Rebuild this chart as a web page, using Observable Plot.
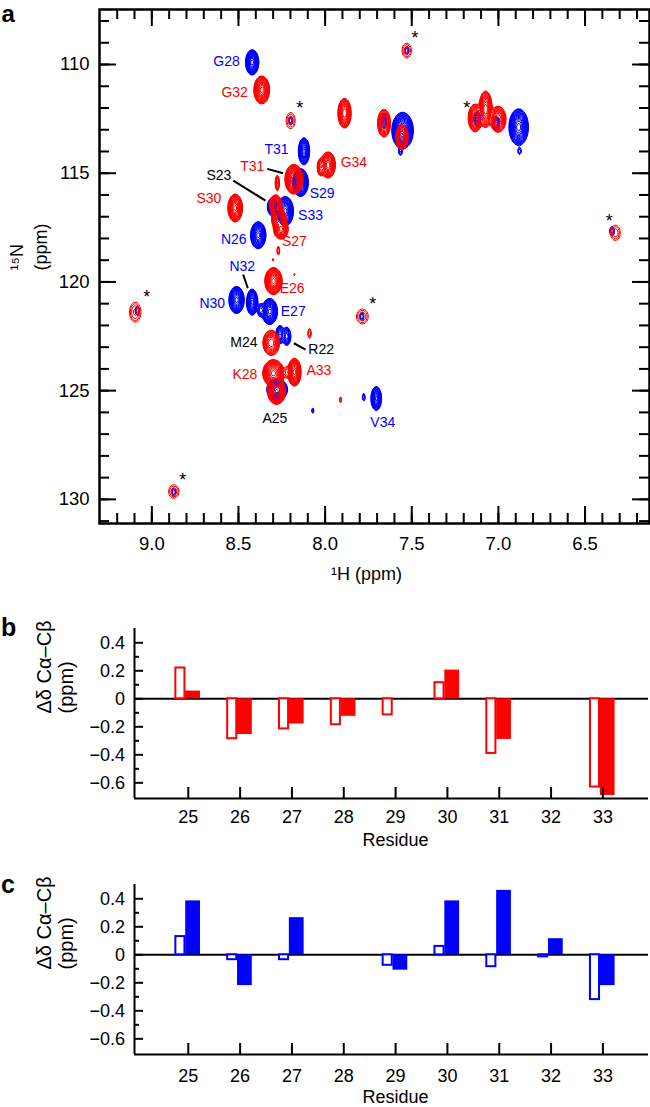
<!DOCTYPE html>
<html><head><meta charset="utf-8">
<script src="https://cdn.jsdelivr.net/npm/d3@7"></script>
<script src="https://cdn.jsdelivr.net/npm/@observablehq/plot@0.6"></script>
<style>
html,body{margin:0;padding:0;background:#fff;}
#wrap{position:relative;width:650px;height:1107px;overflow:hidden;background:#fff;}
#wrap svg{position:absolute;left:0;}
</style></head><body><div id="wrap"></div>
<script>
const FONT = "'Liberation Sans', Arial, Helvetica, sans-serif";
const RED = "#ff0000", BLUE = "#0000ff";

// ---------- panel a: axes ----------
const hDomain = [9.302, 6.128];
const nDomain = [131.11, 107.47];
const hMajor = [9.0, 8.5, 8.0, 7.5, 7.0, 6.5];
const hMinor = [9.2,9.1,9.0,8.9,8.8,8.7,8.6,8.5,8.4,8.3,8.2,8.1,8.0,7.9,7.8,7.7,7.6,7.5,7.4,7.3,7.2,7.1,7.0,6.9,6.8,6.7,6.6,6.5,6.4,6.3,6.2];
const nMajor = [110, 115, 120, 125, 130];
const nMinor = [108,109,110,111,112,113,114,115,116,117,118,119,120,121,122,123,124,125,126,127,128,129,130,131];

// peaks: [1H ppm, 15N ppm, half-width 1H, half-width 15N, relative intensity]
const bluePeaks = [
  [8.421, 109.90, 0.038, 0.58, 80],
  [8.122, 113.99, 0.032, 0.62, 60],
  [8.142, 115.43, 0.045, 0.64, 60],
  [8.230, 116.75, 0.047, 0.68, 60],
  [8.303, 116.55, 0.030, 0.42, 12],
  [8.386, 117.85, 0.044, 0.62, 60],
  [8.511, 120.83, 0.044, 0.62, 60],
  [8.421, 120.93, 0.032, 0.60, 60],
  [8.320, 121.36, 0.045, 0.60, 60],
  [8.373, 121.30, 0.018, 0.30, 6],
  [8.260, 122.42, 0.024, 0.42, 14],
  [8.222, 122.50, 0.024, 0.42, 14],
  [8.277, 124.95, 0.060, 0.50, 30],
  [7.705, 125.36, 0.030, 0.55, 60],
  [7.777, 125.30, 0.008, 0.18, 2.2],
  [8.071, 125.92, 0.006, 0.13, 2.0],
  [7.553, 113.04, 0.062, 0.84, 80],
  [7.565, 114.03, 0.010, 0.15, 2.2],
  [6.883, 112.88, 0.056, 0.84, 80],
  [6.878, 113.99, 0.010, 0.15, 2.2],
  [8.199, 112.58, 0.012, 0.20, 2.2],
  [7.529, 109.36, 0.012, 0.20, 2.2],
  [6.344, 117.67, 0.014, 0.22, 2.2],
  [9.084, 121.32, 0.012, 0.22, 2.2],
  [7.788, 121.59, 0.012, 0.20, 2.2],
  [8.873, 129.67, 0.012, 0.20, 2.2],
  [7.122, 112.50, 0.020, 0.35, 6],
  [7.014, 112.73, 0.020, 0.35, 6],
  [7.660, 112.60, 0.015, 0.35, 5]
];
const redPeaks = [
  [8.366, 111.17, 0.045, 0.64, 60],
  [8.199, 112.58, 0.026, 0.37, 2.1],
  [7.888, 112.24, 0.038, 0.68, 40],
  [7.660, 112.70, 0.037, 0.64, 18],
  [7.557, 113.34, 0.036, 0.58, 14],
  [7.529, 109.36, 0.027, 0.34, 2.1],
  [7.134, 112.46, 0.040, 0.64, 25],
  [7.074, 112.06, 0.038, 0.84, 40],
  [7.002, 112.52, 0.046, 0.60, 20],
  [6.325, 117.74, 0.028, 0.35, 2.1],
  [7.983, 114.62, 0.042, 0.60, 50],
  [8.025, 114.72, 0.020, 0.40, 10],
  [8.180, 115.28, 0.052, 0.68, 60],
  [8.276, 115.45, 0.012, 0.36, 4],
  [8.519, 116.60, 0.042, 0.64, 60],
  [8.286, 116.45, 0.036, 0.45, 25],
  [8.267, 117.10, 0.042, 0.50, 35],
  [8.255, 117.58, 0.042, 0.45, 35],
  [8.270, 118.56, 0.008, 0.20, 2.2],
  [8.300, 118.98, 0.004, 0.06, 1.6],
  [8.177, 119.66, 0.004, 0.06, 1.6],
  [8.298, 119.96, 0.050, 0.62, 60],
  [9.096, 121.39, 0.033, 0.46, 2.4],
  [7.785, 121.59, 0.034, 0.34, 2.2],
  [8.090, 122.37, 0.010, 0.22, 2.2],
  [8.311, 122.80, 0.048, 0.58, 18],
  [8.298, 124.20, 0.062, 0.62, 60],
  [8.280, 125.05, 0.052, 0.58, 45],
  [8.177, 124.15, 0.038, 0.64, 60],
  [8.222, 124.15, 0.012, 0.25, 2.5],
  [7.911, 125.42, 0.006, 0.14, 2.0],
  [8.873, 129.64, 0.030, 0.31, 2.1]
];
// assignments: [label, 1H, 15N]
const labelsBlue = [["G28",8.569,109.86],["T31",8.280,113.92],["S29",8.017,115.95],["S33",8.084,116.95],["N26",8.527,118.06],["N32",8.478,119.29],["N30",8.651,120.98],["E27",8.184,121.36],["V34",7.667,126.45]];
const labelsRed = [["G32",8.522,111.30],["G34",7.834,114.52],["T31",8.420,114.69],["S30",8.671,116.18],["S27",8.177,118.13],["E26",8.190,120.32],["K28",8.463,124.26],["A33",8.036,124.08]];
const labelsBlack = [["S23",8.613,115.10],["M24",8.469,122.77],["R22",8.023,123.12],["A25",8.290,126.30]];
const leaders = [[8.334,114.80,8.242,115.00],[8.530,115.34,8.344,116.26],[8.473,119.66,8.446,120.29],[8.180,122.82,8.113,123.11]];
const stars = [[8.146,111.81],[7.481,108.59],[7.182,111.84],[6.361,117.02],[9.029,120.52],[8.821,128.94],[7.725,120.86]];

// ---------- panels b, c ----------
const residues = [25,26,27,28,29,30,31,32,33];
const openB   = [0.22, -0.285, -0.215, -0.185, -0.115, 0.115, -0.39, null, -0.63];
const filledB = [0.055, -0.255, -0.18, -0.125, null, 0.205, -0.29, null, -0.69];
const openC   = [0.13, -0.035, -0.035, null, -0.075, 0.06, -0.085, -0.015, -0.32];
const filledC = [0.385, -0.22, 0.265, null, -0.11, 0.385, 0.46, 0.115, -0.22];
const resDomain = [23.962, 33.88];
const ddDomain = [-0.712, 0.502];
const ddMajor = [0.4, 0.2, 0, -0.2, -0.4, -0.6];
const ddMinor = [0.3, 0.1, -0.1, -0.3, -0.5];

// ---------- contour field ----------
const EXP = 2;
function sampler(peaks) {
  const P = peaks.map(([h, n, wh, wn, a]) => {
    const k = Math.pow(Math.log(a), 1 / EXP);
    return {h, n, sh: wh / k, sn: wn / k, a};
  });
  return (x, y) => {
    let s = 0;
    for (const p of P) {
      const u = (x - p.h) / p.sh;
      if (u > 6 || u < -6) continue;
      const v = (y - p.n) / p.sn;
      if (v > 6 || v < -6) continue;
      s += p.a * Math.exp(-(u * u + v * v));
    }
    return s;
  };
}
const levels = d3.range(0, 18).map(k => Math.pow(1.3, k));

const wrap = document.getElementById("wrap");

// ---------- panel a ----------
const mA = {top: 9, right: 1, bottom: 67, left: 99};
const WA = 650, HA = 590;
const FWA = WA - mA.left - mA.right, FHA = HA - mA.top - mA.bottom;
const bounds = {x1: Math.min(...hDomain), x2: Math.max(...hDomain), y1: Math.min(...nDomain), y2: Math.max(...nDomain)};
const plotA = Plot.plot({
  width: WA, height: HA,
  marginTop: mA.top, marginRight: mA.right, marginBottom: mA.bottom, marginLeft: mA.left,
  x: {domain: hDomain}, y: {domain: nDomain},
  style: {fontFamily: FONT, background: "transparent", color: "black"},
  marks: [
    Plot.contour(null, {...bounds, value: sampler(bluePeaks), thresholds: levels, stroke: BLUE, fill: "none", strokeWidth: 1, pixelSize: 1}),
    Plot.contour(null, {...bounds, value: sampler(redPeaks), thresholds: levels, stroke: RED, fill: "none", strokeWidth: 1, pixelSize: 1}),
    Plot.link(leaders, {x1: d => d[0], y1: d => d[1], x2: d => d[2], y2: d => d[3], stroke: "black", strokeWidth: 2}),
    Plot.text(labelsBlue, {x: d => d[1], y: d => d[2], text: d => d[0], fill: BLUE, fontSize: 14}),
    Plot.text(labelsRed, {x: d => d[1], y: d => d[2], text: d => d[0], fill: RED, fontSize: 14}),
    Plot.text(labelsBlack, {x: d => d[1], y: d => d[2], text: d => d[0], fill: "black", fontSize: 14}),
    Plot.text(stars, {x: d => d[0], y: d => d[1], text: () => "*", fill: "black", fontSize: 18, dy: 4}),
    Plot.frame({stroke: "black", strokeWidth: 2.5}),
    Plot.ruleX(hMinor, {insetTop: FHA - 10, strokeWidth: 2}),
    Plot.ruleX(hMinor, {insetBottom: FHA - 10, strokeWidth: 2}),
    Plot.ruleX(hMajor, {insetTop: FHA - 17, strokeWidth: 2}),
    Plot.ruleX(hMajor, {insetBottom: FHA - 17, strokeWidth: 2}),
    Plot.ruleY(nMinor, {insetRight: FWA - 10, strokeWidth: 2}),
    Plot.ruleY(nMinor, {insetLeft: FWA - 10, strokeWidth: 2}),
    Plot.ruleY(nMajor, {insetRight: FWA - 17, strokeWidth: 2}),
    Plot.ruleY(nMajor, {insetLeft: FWA - 17, strokeWidth: 2}),
    Plot.axisX({ticks: hMajor, tickSize: 0, tickPadding: 13, tickFormat: d3.format(".1f"), fontSize: 18.5, label: null}),
    Plot.axisY({ticks: nMajor, tickSize: 0, tickPadding: 10, tickFormat: d => String(d), fontSize: 18.5, label: null}),
    Plot.text(["¹H (ppm)"], {frameAnchor: "bottom", lineAnchor: "top", dy: 44, dx: -8, fontSize: 18}),
    Plot.text(["¹⁵N\n(ppm)"], {frameAnchor: "left", rotate: -90, dx: -72, dy: 4, lineHeight: 1.3, fontSize: 18}),
    Plot.text(["a"], {frameAnchor: "top-left", textAnchor: "start", lineAnchor: "top", dx: 1 - mA.left, dy: -5, fontSize: 24, fontWeight: "bold"})
  ]
});
plotA.style.top = "0px";
wrap.appendChild(plotA);

// ---------- bar panels ----------
function barPanel({open, filled, color, letter, top, height, mt, mb, xPad, titleDy, letterDy}) {
  const ml = 134, mr = 2, W = 650;
  const FW = W - ml - mr, FH = height - mt - mb;
  const openRows = residues.map((r, i) => ({r, v: open[i]})).filter(d => d.v != null);
  const filledRows = residues.map((r, i) => ({r, v: filled[i]})).filter(d => d.v != null);
  const p = Plot.plot({
    width: W, height,
    marginTop: mt, marginRight: mr, marginBottom: mb, marginLeft: ml,
    x: {domain: resDomain}, y: {domain: ddDomain},
    style: {fontFamily: FONT, background: "transparent", color: "black"},
    marks: [
      Plot.ruleY([0], {strokeWidth: 2}),
      Plot.rectY(openRows, {x1: d => d.r - 0.24, x2: d => d.r - 0.065, y1: () => 0, y2: d => d.v, fill: "white", stroke: color, strokeWidth: 2}),
      Plot.rectY(filledRows, {x1: d => d.r - 0.05, x2: d => d.r + 0.235, y1: () => 0, y2: d => d.v, fill: color}),
      Plot.ruleX([resDomain[0]], {strokeWidth: 2}),
      Plot.ruleY([ddDomain[0]], {strokeWidth: 2}),
      Plot.ruleX(residues, {insetTop: FH - 11, strokeWidth: 2}),
      Plot.ruleY(ddMajor, {insetRight: FW - 9, strokeWidth: 2}),
      Plot.ruleY(ddMinor, {insetRight: FW - 5, strokeWidth: 2}),
      Plot.axisX({ticks: residues, tickSize: 0, tickPadding: xPad, tickFormat: d => String(d), fontSize: 18, label: null}),
      Plot.axisY({ticks: ddMajor, tickSize: 0, tickPadding: 9.5, tickFormat: d => d === 0 ? "0" : d3.format(".1f")(d), fontSize: 18, label: null}),
      Plot.text(["Residue"], {frameAnchor: "bottom", lineAnchor: "top", dy: titleDy, dx: 4, fontSize: 18}),
      Plot.text(["Δδ Cα–Cβ\n(ppm)"], {frameAnchor: "left", rotate: -90, dx: -80, lineHeight: 1.1, fontSize: 20}),
      Plot.text([letter], {frameAnchor: "top-left", textAnchor: "start", lineAnchor: "top", dx: 0.5 - ml, dy: letterDy, fontSize: 25, fontWeight: "bold"})
    ]
  });
  p.style.top = top + "px";
  wrap.appendChild(p);
}
barPanel({open: openB, filled: filledB, color: RED, letter: "b", top: 590, height: 268, mt: 38, mb: 60, xPad: 12, titleDy: 35, letterDy: -10});
barPanel({open: openC, filled: filledC, color: BLUE, letter: "c", top: 858, height: 249, mt: 26, mb: 53, xPad: 15, titleDy: 36, letterDy: -9});
</script></body></html>
